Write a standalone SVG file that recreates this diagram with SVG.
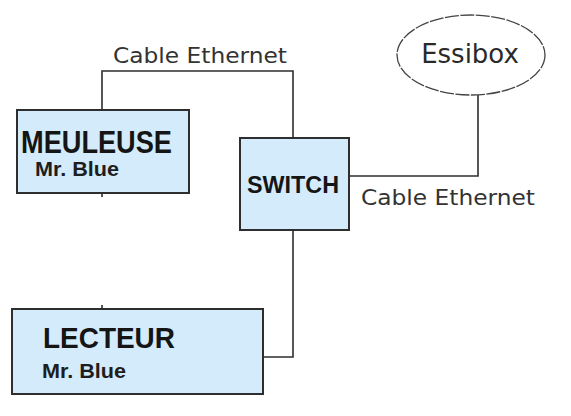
<svg xmlns="http://www.w3.org/2000/svg" width="571" height="416" viewBox="0 0 571 416">
<style>
.box{fill:#d3ebfa;stroke:#2e2e2e;stroke-width:2}
.wire{fill:none;stroke:#2e2e2e;stroke-width:1.6}
.title{font-family:"Liberation Sans",Arial,sans-serif;font-weight:bold;fill:#151515}
.sub{font-family:"Liberation Sans",Arial,sans-serif;font-weight:bold;fill:#1e1e1e;font-size:20px}
.lbl{font-family:"DejaVu Sans",Verdana,sans-serif;fill:#333;font-size:21px}
</style>
<rect width="571" height="416" fill="#ffffff"/>
<g id="connectors">
<polyline class="wire" points="102,110 102,71 293,71 293,138"/>
<polyline class="wire" points="349,176 478,176 478,95"/>
<polyline class="wire" points="293,230 293,357 263,357"/>
<line class="wire" x1="102" y1="193" x2="102" y2="197"/>
<line class="wire" x1="102" y1="305" x2="102" y2="309"/>
<text class="lbl" x="113" y="63" textLength="174" lengthAdjust="spacingAndGlyphs">Cable Ethernet</text>
<text class="lbl" x="361" y="205" textLength="174" lengthAdjust="spacingAndGlyphs">Cable Ethernet</text>
</g>
<g id="meuleuse">
<rect class="box" x="17" y="110" width="172" height="83"/>
<text class="title" x="21" y="153" font-size="31" textLength="151" lengthAdjust="spacingAndGlyphs">MEULEUSE</text>
<text class="sub" x="35" y="176" textLength="84" lengthAdjust="spacingAndGlyphs">Mr. Blue</text>
</g>
<g id="switch">
<rect class="box" x="240" y="138" width="109" height="92"/>
<text class="title" x="247" y="193" font-size="24" textLength="92" lengthAdjust="spacingAndGlyphs">SWITCH</text>
</g>
<g id="essibox">
<ellipse cx="471" cy="55" rx="74" ry="40" fill="#ffffff" stroke="#444" stroke-width="1.3" stroke-dasharray="14,1.5"/>
<text x="470" y="63" text-anchor="middle" font-family="DejaVu Sans,Verdana,sans-serif" font-size="26" fill="#2a2a2a">Essibox</text>
</g>
<g id="lecteur">
<rect class="box" x="12" y="309" width="251" height="85"/>
<text class="title" x="43" y="348" font-size="30" textLength="132" lengthAdjust="spacingAndGlyphs">LECTEUR</text>
<text class="sub" x="42" y="378" textLength="84" lengthAdjust="spacingAndGlyphs">Mr. Blue</text>
</g>
</svg>
